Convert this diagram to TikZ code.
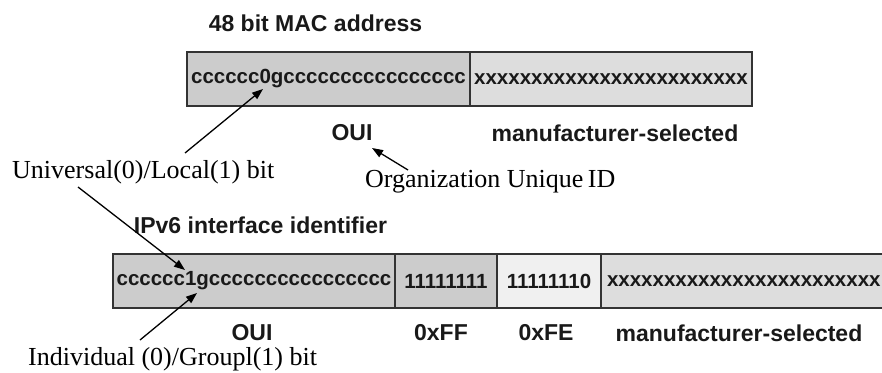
\documentclass[tikz,border=0pt]{standalone}
\usepackage{fontspec}
\setmainfont{Liberation Serif}
\setsansfont{Liberation Sans}
\usetikzlibrary{arrows.meta}
\definecolor{darkcell}{HTML}{CCCCCC}
\definecolor{midcell}{HTML}{DDDDDD}
\definecolor{lightcell}{HTML}{F0F0F0}
\definecolor{edgegray}{HTML}{333333}
\begin{document}
\begin{tikzpicture}[x=1pt,y=-1pt,
  cell/.style={draw=edgegray, line width=1.6pt, minimum height=54pt, inner sep=0pt,
    font=\sffamily\bfseries\fontsize{20.5}{24}\selectfont, text=black!90},
  title/.style={font=\sffamily\bfseries\fontsize{23}{27}\selectfont, inner sep=0pt, text=black!90},
  lbl/.style={font=\sffamily\bfseries\fontsize{23}{27}\selectfont, inner sep=0pt, text=black!90},
  note/.style={font=\rmfamily\fontsize{26}{30}\selectfont, inner sep=0pt, anchor=base west},
  pointer/.style={line width=1.3pt, -{Triangle[length=11pt, width=8pt]}}
]
\useasboundingbox (0,0) rectangle (882,372);
\clip (0,0) rectangle (882,372);

% top: 48 bit MAC address
\node[title] (t1) at (315.5,23) {48 bit MAC address};
\node[cell, fill=darkcell, minimum width=283pt] (m1) at (328.5,79) {cccccc0gcccccccccccccccc};
\node[cell, fill=midcell, minimum width=282pt] (m2) at (611,79) {xxxxxxxxxxxxxxxxxxxxxxxx};
\node[lbl] (oui1) at (352,133) {OUI};
\node[lbl] (ms1) at (615,133) {manufacturer-selected};

% notes
\node[note] (univ) at (12,178) {Universal(0)/Local(1) bit};
\node[note] (org) at (365,187) {Organization Unique\,ID};

% bottom: IPv6 interface identifier
\node[title] (t2) at (260.5,225) {IPv6 interface identifier};
\node[cell, fill=darkcell, minimum width=282pt] (i1) at (254,281) {cccccc1gcccccccccccccccc};
\node[cell, fill=darkcell, minimum width=102pt] (i2) at (446,281) {11111111};
\node[cell, fill=lightcell, minimum width=104pt] (i3) at (549,281) {11111110};
\node[cell, fill=midcell, minimum width=289pt, text width=277pt, align=left] (i4) at (745.5,281) {xxxxxxxxxxxxxxxxxxxxxxxx};
\node[lbl] (oui2) at (252,333) {OUI};
\node[lbl] (ff) at (441,333) {0xFF};
\node[lbl] (fe) at (546,333) {0xFE};
\node[lbl] (ms2) at (739,333) {manufacturer-selected};

\node[note] (indiv) at (28,365) {Individual (0)/Groupl(1) bit};

% arrow end points
\coordinate (ulbit1) at (263,89);
\coordinate (ulbit2) at (185,270);
\coordinate (igbit) at (197,293);
\coordinate (ouitip) at (372,148);
\coordinate (univtop) at (185,153);
\coordinate (univbot) at (78,187);
\coordinate (orgtop) at (408,170);
\coordinate (indivtop) at (140,340);

\draw[pointer] (univtop) -- (ulbit1);
\draw[pointer] (univbot) -- (ulbit2);
\draw[pointer] (orgtop) -- (ouitip);
\draw[pointer] (indivtop) -- (igbit);
\end{tikzpicture}
\end{document}
